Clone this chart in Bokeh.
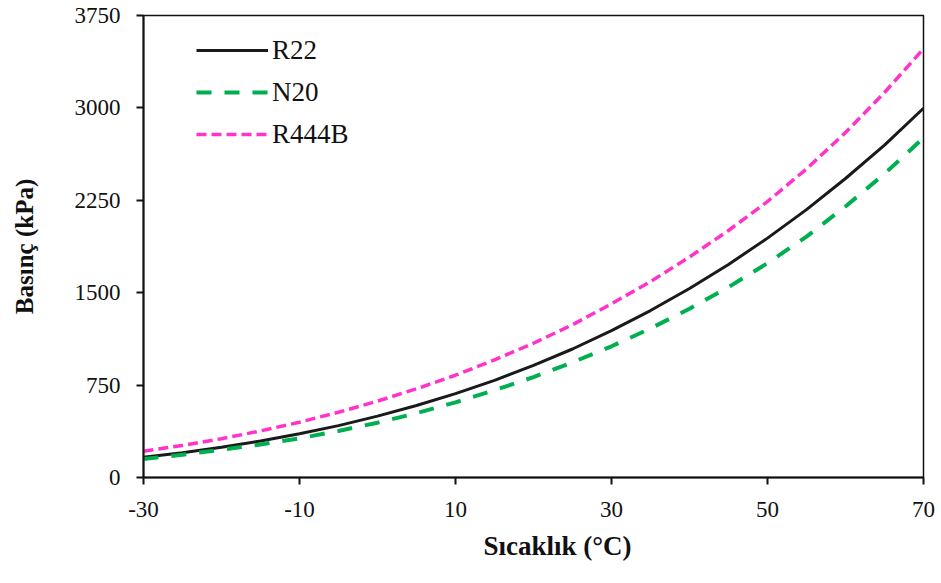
from bokeh.plotting import figure
from bokeh.models import Range1d, FixedTicker, Legend, LegendItem, Title
from bokeh.embed import file_html
from bokeh.resources import INLINE

# Temperature (°C)
temps = [-30, -25, -20, -15, -10, -5, 0, 5, 10, 15, 20, 25, 30, 35, 40, 45, 50, 55, 60, 65, 70]
# Saturation pressure (kPa)
r22 = [164, 201, 245, 296, 355, 421, 498, 584, 681, 789, 910, 1043, 1192, 1355, 1534, 1729, 1943, 2174, 2427, 2698, 2997]
n20 = [150, 185, 225, 268, 318, 378, 445, 522, 610, 708, 815, 935, 1065, 1210, 1370, 1545, 1740, 1955, 2200, 2465, 2757]
r444b = [213, 260, 315, 378, 449, 530, 620, 720, 830, 955, 1090, 1240, 1410, 1590, 1790, 2005, 2240, 2505, 2800, 3125, 3480]

x_ticks = [-30, -10, 10, 30, 50, 70]
x_tick_labels = ["-30", "-10", "10", "30", "50", "70"]
y_ticks = [0, 750, 1500, 2250, 3000, 3750]

x_title = "Sıcaklık (°C)"
y_title = "Basınç (kPa)"

FONT = "Liberation Serif"

p = figure(width=941, height=583, output_backend="svg", toolbar_location=None,
           x_range=Range1d(-30, 70), y_range=Range1d(0, 3750),
           min_border_left=143, min_border_right=18, min_border_top=15, min_border_bottom=106)

p.grid.visible = False
p.background_fill_color = "white"
p.border_fill_color = "white"
p.outline_line_color = "#111111"
p.outline_line_width = 1.5

for ax in (p.xaxis[0], p.yaxis[0]):
    ax.axis_line_color = "#111111"
    ax.axis_line_width = 2
    ax.major_tick_line_color = "#111111"
    ax.major_tick_line_width = 2
    ax.major_tick_out = 7
    ax.major_tick_in = 0
    ax.minor_tick_line_color = None
    ax.major_label_text_font = FONT
    ax.major_label_text_font_size = "23px"
    ax.major_label_text_color = "#111111"

p.xaxis[0].ticker = FixedTicker(ticks=x_ticks)
p.xaxis[0].major_label_overrides = {t: s for t, s in zip(x_ticks, x_tick_labels)}
p.yaxis[0].ticker = FixedTicker(ticks=y_ticks)
p.xaxis[0].major_label_standoff = 17
p.yaxis[0].major_label_standoff = 16

# y title as a normal axis label
p.yaxis[0].axis_label = y_title
p.yaxis[0].axis_label_text_font = FONT
p.yaxis[0].axis_label_text_font_size = "25px"
p.yaxis[0].axis_label_text_font_style = "bold"
p.yaxis[0].axis_label_text_color = "#111111"
p.yaxis[0].axis_label_standoff = 34

# x title as a side-panel title (allows offset along the axis)
p.add_layout(Title(text=x_title, align="left", offset=340, standoff=22, vertical_align="top",
                   text_font=FONT, text_font_size="27px", text_font_style="bold",
                   text_color="#111111"), "below")

l1 = p.line(temps, r22, line_color="#1a1a1a", line_width=3)
l2 = p.line(temps, n20, line_color="#00b050", line_width=4, line_dash="15 13")
l3 = p.line(temps, r444b, line_color="#ff33cc", line_width=3.5, line_dash="10 5")

legend = Legend(items=[LegendItem(label="R22", renderers=[l1]),
                       LegendItem(label="N20", renderers=[l2]),
                       LegendItem(label="R444B", renderers=[l3])],
                location=(53, 327), padding=0, margin=0, spacing=10,
                glyph_width=72, glyph_height=32, label_height=32, label_standoff=4,
                label_text_font=FONT, label_text_font_size="27px", label_text_color="#111111",
                border_line_color=None, background_fill_alpha=0)
p.add_layout(legend)

open("out.html", "w").write(file_html(p, INLINE))
